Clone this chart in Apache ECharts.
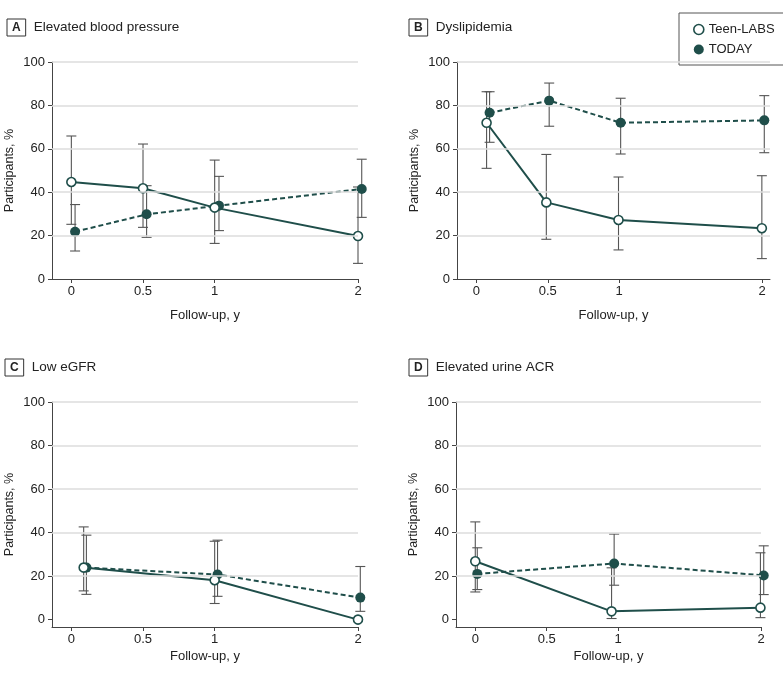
<!DOCTYPE html>
<html>
<head>
<meta charset="utf-8">
<script src="https://cdn.jsdelivr.net/npm/echarts@6/dist/echarts.min.js"></script>
<style>
  html, body { margin: 0; padding: 0; background: #fff; }
  #chart { width: 783px; height: 675px; }
</style>
</head>
<body>
<div id="chart"></div>
<script>
// ---------- data ----------
const panelTitles = ['Elevated blood pressure', 'Dyslipidemia', 'Low eGFR', 'Elevated urine ACR'];
const panelLetters = ['A', 'B', 'C', 'D'];
const xTickValues = [0, 0.5, 1, 2];
const yTickValues = [0, 20, 40, 60, 80, 100];
const gridValues = [20, 40, 60, 80, 100];
const seriesNames = ['Teen-LABS', 'TODAY'];

// Panel A: Elevated blood pressure
const aTeenX = [0, 0.5, 1, 2];
const aTeenY = [44.7, 41.8, 32.9, 19.8];
const aTeenLo = [25.2, 23.8, 16.4, 7.2];
const aTeenHi = [65.9, 62.2, 54.8, 42.4];
const aTodayX = [0.026, 0.525, 1.03, 2.026];
const aTodayY = [21.8, 29.8, 33.8, 41.5];
const aTodayLo = [12.9, 19.2, 22.3, 28.4];
const aTodayHi = [34.3, 43.0, 47.3, 55.2];

// Panel B: Dyslipidemia
const bTeenX = [0.072, 0.49, 0.995, 1.998];
const bTeenY = [72.0, 35.3, 27.2, 23.4];
const bTeenLo = [51.0, 18.3, 13.4, 9.4];
const bTeenHi = [86.3, 57.4, 47.0, 47.6];
const bTodayX = [0.093, 0.51, 1.01, 2.015];
const bTodayY = [76.6, 82.2, 72.0, 73.1];
const bTodayLo = [63.0, 70.4, 57.6, 58.2];
const bTodayHi = [86.3, 90.3, 83.3, 84.5];

// Panel C: Low eGFR
const cTeenX = [0.086, 1.0, 2.0];
const cTeenY = [23.9, 18.1, 0];
const cTeenLo = [13.2, 7.4, null];
const cTeenHi = [42.6, 36.0, null];
const cTodayX = [0.105, 1.02, 2.016];
const cTodayY = [23.9, 20.7, 10.1];
const cTodayLo = [11.6, 10.7, 3.8];
const cTodayHi = [38.8, 36.5, 24.4];

// Panel D: Elevated urine ACR
const dTeenX = [0, 0.954, 1.996];
const dTeenY = [26.8, 3.8, 5.5];
const dTeenLo = [12.7, 0.5, 0.9];
const dTeenHi = [44.9, 23.8, 30.7];
const dTodayX = [0.014, 0.972, 2.019];
const dTodayY = [21.0, 25.8, 20.3];
const dTodayLo = [13.8, 15.8, 11.5];
const dTodayHi = [33.0, 39.3, 33.9];

// ---------- styling / layout ----------
const TEAL = '#1f4e4a';
const TEXT = '#222';
const AXIS = '#444';
const BAR = '#555';
const FONT = "'Liberation Sans', Arial, sans-serif";

const layouts = [
  { grid: { left: 52, top: 62, width: 306, height: 217 }, xMin: -0.135, xMax: 2, yMin: 0, nameGap: 30, title: { left: 2, top: 14 } },
  { grid: { left: 457, top: 62, width: 313, height: 217 }, xMin: -0.135, xMax: 2.055, yMin: 0, nameGap: 30, title: { left: 404, top: 14 } },
  { grid: { left: 52, top: 402, width: 306, height: 225 }, xMin: -0.135, xMax: 2, yMin: -3.4, nameGap: 23, title: { left: 0, top: 354 } },
  { grid: { left: 456, top: 402, width: 305, height: 225 }, xMin: -0.135, xMax: 2, yMin: -3.4, nameGap: 23, title: { left: 404, top: 354 } }
];

const panels = [
  [aTeenX, aTeenY, aTeenLo, aTeenHi, aTodayX, aTodayY, aTodayLo, aTodayHi],
  [bTeenX, bTeenY, bTeenLo, bTeenHi, bTodayX, bTodayY, bTodayLo, bTodayHi],
  [cTeenX, cTeenY, cTeenLo, cTeenHi, cTodayX, cTodayY, cTodayLo, cTodayHi],
  [dTeenX, dTeenY, dTeenLo, dTeenHi, dTodayX, dTodayY, dTodayLo, dTodayHi]
];

function errData(xs, lo, hi) {
  const out = [];
  xs.forEach((x, i) => { if (lo[i] != null && hi[i] != null) out.push([x, lo[i], hi[i]]); });
  return out;
}

function renderErr(params, api) {
  const x = api.value(0);
  const pLo = api.coord([x, api.value(1)]);
  const pHi = api.coord([x, api.value(2)]);
  const w = 5;
  const style = { stroke: BAR, lineWidth: 1.1, fill: null };
  return {
    type: 'group',
    children: [
      { type: 'line', shape: { x1: pLo[0], y1: pLo[1], x2: pHi[0], y2: pHi[1] }, style },
      { type: 'line', shape: { x1: pLo[0] - w, y1: pLo[1], x2: pLo[0] + w, y2: pLo[1] }, style },
      { type: 'line', shape: { x1: pHi[0] - w, y1: pHi[1], x2: pHi[0] + w, y2: pHi[1] }, style }
    ]
  };
}

const grids = [], xAxes = [], yAxes = [], series = [], titles = [];

layouts.forEach((L, i) => {
  grids.push(Object.assign({ containLabel: false }, L.grid));
  titles.push({
    left: L.title.left, top: L.title.top,
    text: '{b|' + panelLetters[i] + '}{t|' + panelTitles[i] + '}',
    textStyle: {
      fontWeight: 'normal',
      rich: {
        b: { fontFamily: FONT, fontWeight: 'bold', fontSize: 12, color: TEXT, borderColor: '#333', borderWidth: 1, padding: [3, 5, 2, 5] },
        t: { fontFamily: FONT, fontWeight: 'normal', fontSize: 13.5, color: TEXT, padding: [0, 0, 0, 8] }
      }
    }
  });
  xAxes.push({
    type: 'value', gridIndex: i, min: L.xMin, max: L.xMax,
    name: 'Follow-up, y', nameLocation: 'middle', nameGap: L.nameGap,
    nameTextStyle: { fontFamily: FONT, fontSize: 13, color: TEXT },
    axisLine: { show: true, onZero: false, lineStyle: { color: AXIS, width: 1 } },
    axisTick: { show: true, length: 4, lineStyle: { color: AXIS }, customValues: xTickValues },
    axisLabel: { fontFamily: FONT, fontSize: 13, color: TEXT, margin: 6, customValues: xTickValues, formatter: v => String(v) },
    splitLine: { show: false }
  });
  yAxes.push({
    type: 'value', gridIndex: i, min: L.yMin, max: 100,
    name: 'Participants, %', nameLocation: 'middle', nameGap: 36, nameRotate: 90,
    nameTextStyle: { fontFamily: FONT, fontSize: 12.5, color: TEXT },
    axisLine: { show: true, onZero: false, lineStyle: { color: AXIS, width: 1 } },
    axisTick: { show: true, length: 4, lineStyle: { color: AXIS }, customValues: yTickValues },
    axisLabel: { fontFamily: FONT, fontSize: 13, color: TEXT, margin: 7, customValues: yTickValues },
    splitLine: { show: false }
  });

  const [tX, tY, tLo, tHi, dX, dY, dLo, dHi] = panels[i];

  // gridlines
  series.push({
    type: 'line', name: 'grid' + i, xAxisIndex: i, yAxisIndex: i, data: [], z: 0, silent: true,
    markLine: {
      silent: true, symbol: ['none', 'none'], label: { show: false }, animation: false,
      lineStyle: { color: '#dcdcdc', width: 1.5, type: 'solid' },
      data: gridValues.map(v => ({ yAxis: v }))
    }
  });
  // error bars
  series.push({
    type: 'custom', name: 'errTeen' + i, xAxisIndex: i, yAxisIndex: i, z: 1, silent: true,
    renderItem: renderErr, encode: { x: 0, y: [1, 2] }, data: errData(tX, tLo, tHi), clip: false
  });
  series.push({
    type: 'custom', name: 'errToday' + i, xAxisIndex: i, yAxisIndex: i, z: 1, silent: true,
    renderItem: renderErr, encode: { x: 0, y: [1, 2] }, data: errData(dX, dLo, dHi), clip: false
  });
  // TODAY (dashed, filled)
  series.push({
    type: 'line', name: seriesNames[1], xAxisIndex: i, yAxisIndex: i, z: 3, clip: false,
    data: dX.map((x, k) => [x, dY[k]]),
    symbol: 'circle', symbolSize: 10, showAllSymbol: true,
    itemStyle: { color: TEAL, borderColor: TEAL, borderWidth: 0 },
    lineStyle: { color: TEAL, width: 2, type: [5, 3] }
  });
  // Teen-LABS (solid, open)
  series.push({
    type: 'line', name: seriesNames[0], xAxisIndex: i, yAxisIndex: i, z: 4, clip: false,
    data: tX.map((x, k) => [x, tY[k]]),
    symbol: 'circle', symbolSize: 9, showAllSymbol: true,
    itemStyle: { color: '#fff', borderColor: TEAL, borderWidth: 1.6 },
    lineStyle: { color: TEAL, width: 2 }
  });
});

const chart = echarts.init(document.getElementById('chart'), null, { renderer: 'canvas' });
chart.setOption({
  animation: false,
  backgroundColor: '#fff',
  textStyle: { fontFamily: FONT },
  title: titles,
  legend: {
    data: [
      { name: seriesNames[0], icon: 'circle', itemStyle: { color: '#fff', borderColor: TEAL, borderWidth: 1.6 } },
      { name: seriesNames[1], icon: 'circle', itemStyle: { color: TEAL } }
    ],
    orient: 'vertical', left: 679, top: 13,
    itemWidth: 10, itemHeight: 10, itemGap: 7,
    padding: [10, 20, 9, 14],
    borderColor: '#555', borderWidth: 1,
    textStyle: { fontFamily: FONT, fontSize: 13, color: TEXT, padding: [0, 0, 0, 0] },
    selectedMode: false
  },
  grid: grids,
  xAxis: xAxes,
  yAxis: yAxes,
  series: series
});
</script>
</body>
</html>
